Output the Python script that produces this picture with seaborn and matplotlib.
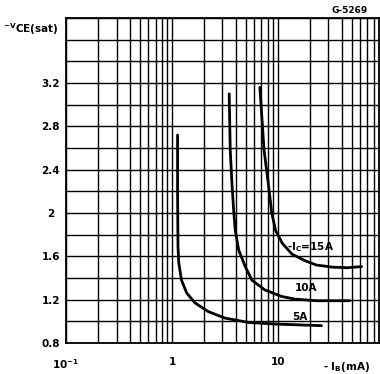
import numpy as np
import pandas as pd
import matplotlib
matplotlib.use("Agg")
import matplotlib.pyplot as plt
import seaborn as sns

# -I_B (mA) vs -V_CE(sat) (V)
ib_5a = [1.13, 1.13, 1.14, 1.16, 1.23, 1.38, 1.65, 2.2, 3.16, 5.25, 9.4, 25.8]
vce_5a = [2.72, 2.2, 1.69, 1.54, 1.38, 1.26, 1.17, 1.09, 1.03, 0.99, 0.975, 0.96]
ib_10a = [3.47, 3.55, 3.68, 3.82, 3.96, 4.26, 4.92, 5.69, 7.53, 10.8, 14.5, 23.2, 47.7]
vce_10a = [3.10, 2.58, 2.28, 2.03, 1.84, 1.66, 1.505, 1.38, 1.29, 1.23, 1.205, 1.19, 1.19]
ib_15a = [6.76, 7.4, 8.1, 8.75, 9.5, 11.0, 13.6, 18.0, 23.0, 33.0, 45.0, 61.7]
vce_15a = [3.16, 2.58, 2.28, 2.0, 1.84, 1.72, 1.62, 1.56, 1.52, 1.50, 1.495, 1.505]

curve_labels = ["5A", "10A", r"-I$_{\mathbf{C}}$=15A"]
label_pos = [(13.7, 1.043), (14.5, 1.308), (12.2, 1.687)]

y_ticks = [0.8, 1.2, 1.6, 2.0, 2.4, 2.8, 3.2]
y_ticklabels = ["0.8", "1.2", "1.6", "2", "2.4", "2.8", "3.2"]
x_ticks = [0.1, 1, 10]
x_ticklabels = [r"$\mathbf{10^{-1}}$", "1", "10"]

df = pd.concat([
    pd.DataFrame({"ib": ib_5a, "vce": vce_5a, "ic": "5A"}),
    pd.DataFrame({"ib": ib_10a, "vce": vce_10a, "ic": "10A"}),
    pd.DataFrame({"ib": ib_15a, "vce": vce_15a, "ic": "15A"}),
], ignore_index=True)

sns.set_theme(style="white")
plt.rcParams["font.family"] = ["DejaVu Sans"]
plt.rcParams["font.weight"] = "bold"
plt.rcParams["mathtext.fontset"] = "dejavusans"
plt.rcParams["text.color"] = "black"
plt.rcParams["axes.labelcolor"] = "black"

fig = plt.figure(figsize=(3.8, 3.74), dpi=100)
ax = fig.add_axes([66 / 380, 31 / 374, 313 / 380, 325 / 374])

sns.lineplot(data=df, x="ib", y="vce", units="ic", estimator=None, sort=False,
             color="black", linewidth=2.0, ax=ax)

ax.set_xscale("log")
ax.set_xlim(0.1, 90)
ax.set_ylim(0.8, 3.8)

ax.set_xticks(x_ticks)
ax.set_xticklabels(x_ticklabels)
minor_x = [m * 10.0 ** e for e in (-1, 0, 1) for m in range(2, 10)]
ax.set_xticks(minor_x, minor=True)
ax.set_xticklabels([], minor=True)

ax.set_yticks(y_ticks)
ax.set_yticklabels(y_ticklabels)
ax.set_yticks(np.arange(0.8, 3.81, 0.2), minor=True)

ax.grid(which="both", color="black", linewidth=1.0)
ax.tick_params(which="both", length=0, labelsize=7.5, colors="black")
ax.tick_params(axis="y", pad=11)
ax.tick_params(axis="x", pad=10)
plt.setp(ax.get_yticklabels(), ha="center")
for s in ax.spines.values():
    s.set_color("black")
    s.set_linewidth(1.3)

for lab, (lx, ly) in zip(curve_labels, label_pos):
    ax.text(lx, ly, lab, fontsize=7.5, fontweight="bold", ha="left", va="center")

ax.set_xlabel(r"- I$_{\mathbf{B}}$(mA)", fontsize=7.5, fontweight="bold", va="center")
ax.xaxis.set_label_coords(0.898, -0.075)
ax.set_ylabel(r"$\mathbf{^{-V}}$CE(sat)", fontsize=7.5, fontweight="bold",
              rotation=0, ha="left", va="center")
ax.yaxis.set_label_coords(-0.2, 0.966)

fig.text(350 / 380, 1 - 10.5 / 374, "G-5269", fontsize=6.5, fontweight="bold",
         ha="center", va="center")

fig.savefig("out.png", dpi=100)
